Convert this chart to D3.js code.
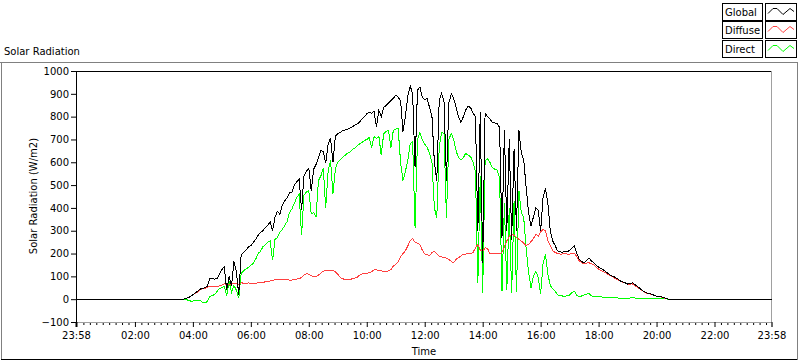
<!DOCTYPE html>
<html>
<head>
<meta charset="utf-8">
<script src="https://cdn.jsdelivr.net/npm/d3@7"></script>
<style>
  body { margin: 0; background: #fff; }
  svg text { font-family: "DejaVu Sans", sans-serif; font-size: 10px; fill: #000; }
</style>
</head>
<body>
<svg id="chart" width="800" height="361"></svg>
<script>
// samples every 5 minutes, starting 03:40 (minutes after midnight)
const startMin = 220;
const stepMin = 5;

const globalVals = [
  0, 3, 6, 12,
  20, 28, 35, 44, 48, 50, 56, 90, 92, 88, 90, 110,
  130, 142, 40, 100, 60, 165, 120, 20, 195, 205, 215, 228,
  235, 248, 262, 280, 292, 300, 315, 322, 340, 300, 360, 385,
  372, 410, 430, 445, 465, 470, 500, 515, 525, 390, 540, 560,
  575, 475, 570, 590, 620, 650, 648, 595, 680, 705, 600, 715,
  725, 730, 738, 742, 745, 750, 755, 762, 768, 775, 790, 800,
  812, 820, 815, 825, 755, 828, 800, 840, 848, 860, 870, 880,
  894, 885, 870, 735, 800, 890, 935, 900, 580, 916, 930, 885,
  875, 880, 840, 800, 600, 520, 870, 903, 865, 520, 860, 900,
  880, 840, 800, 775, 800, 830, 845, 840, 815, 800, 300, 820,
  160, 815, 800, 790, 775, 772, 770, 753, 270, 740, 300, 700,
  260, 660, 300, 740, 640, 610, 490, 380, 320, 360, 400, 390,
  300, 445, 485, 420, 300, 255, 235, 212, 208, 205, 210, 207,
  215, 225, 233, 200, 175, 165, 158, 170, 181, 168, 160, 150,
  140, 135, 128, 120, 112, 105, 100, 95, 88, 80, 76, 72,
  66, 68, 72, 64, 57, 48, 40, 32, 27, 24, 22, 17,
  13, 12, 10, 7, 4, 0, 0
];

const diffuseVals = [
  0, 3, 6, 12,
  20, 26, 32, 42, 46, 48, 52, 58, 56, 55, 54, 58,
  62, 68, 62, 66, 66, 68, 68, 66, 72, 70, 70, 71,
  70, 69, 70, 72, 72, 74, 76, 78, 80, 82, 86, 88,
  88, 88, 86, 85, 84, 84, 86, 88, 90, 95, 105, 112,
  110, 102, 100, 100, 105, 115, 122, 126, 128, 127, 126, 120,
  110, 95, 90, 86, 85, 85, 90, 92, 95, 105, 110, 112,
  114, 115, 120, 128, 128, 126, 124, 122, 122, 124, 130, 145,
  152, 165, 185, 200, 212, 233, 258, 265, 250, 245, 240, 215,
  198, 195, 190, 205, 210, 200, 188, 185, 182, 180, 175, 165,
  160, 175, 182, 190, 198, 198, 200, 198, 205, 225, 240, 215,
  210, 225, 222, 200, 200, 202, 200, 198, 205, 230, 255, 275,
  285, 280, 270, 262, 255, 245, 235, 240, 252, 265, 285, 275,
  295, 305, 300, 255, 235, 212, 205, 200, 198, 198, 200, 198,
  198, 200, 202, 185, 168, 160, 155, 158, 160, 155, 150, 140,
  132, 126, 120, 115, 108, 102, 97, 90, 85, 78, 74, 70,
  65, 66, 67, 60, 53, 46, 38, 30, 26, 23, 21, 16,
  13, 11, 9, 6, 3, 0, 0
];

const directVals = [
  0, 0, -5, -8,
  -8, -6, -4, -5, -14, -16, -10, 12, 16, 20, 34, 46,
  52, 56, 14, 78, 30, 60, 40, 4, 112, 125, 132, 140,
  148, 158, 175, 200, 210, 230, 238, 250, 255, 170, 262, 270,
  292, 305, 322, 340, 380, 395, 420, 445, 460, 280, 455, 470,
  476, 374, 380, 360, 520, 540, 575, 400, 560, 608, 462, 570,
  600, 610, 622, 630, 640, 645, 655, 662, 672, 680, 686, 695,
  700, 708, 665, 712, 705, 715, 630, 725, 735, 740, 665, 740,
  745, 748, 600, 520, 560, 610, 680, 690, 313, 700, 730, 700,
  680, 665, 640, 600, 400, 357, 665, 731, 725, 357, 700, 727,
  700, 650, 620, 610, 620, 640, 630, 625, 600, 560, 70, 540,
  25, 605, 615, 600, 577, 570, 565, 533, 35, 420, 40, 400,
  25, 430, 30, 476, 380, 357, 220, 120, 50, 100, 123, 95,
  22, 155, 198, 110, 60, 45, 35, 20, 15, 14, 13, 15,
  18, 30, 35, 15, 12, 14, 18, 22, 25, 15, 12, 12,
  10, 10, 9, 9, 8, 8, 6, 6, 5, 5, 4, 4,
  4, 5, 7, 5, 4, 4, 3, 3, 3, 3, 3, 3,
  3, 3, 2, 2, 1, 0, 0
];

const seriesNames = ["Global", "Diffuse", "Direct"];
const seriesColors = ["#000000", "#ff4040", "#00ff00"];

const yTicks = [-100, 0, 100, 200, 300, 400, 500, 600, 700, 800, 900, 1000];
// axis runs 23:58 (day before) to 23:58
const xStart = -2, xEnd = 1438;
const xTickMins = [-2, 120, 240, 360, 480, 600, 720, 840, 960, 1080, 1200, 1320, 1438];

const svg = d3.select("#chart");

const x = d3.scaleLinear().domain([xStart, xEnd]).range([76, 771.5]);
const y = d3.scaleLinear().domain([-100, 1000]).range([322, 71]);

function toSeries(vals) {
  const pts = [{ t: xStart, v: 0 }];
  vals.forEach((v, i) => pts.push({ t: startMin + i * stepMin, v: v }));
  pts.push({ t: xEnd, v: 0 });
  return pts;
}

// outer panel frame
svg.append("line").attr("x1", 0).attr("x2", 798).attr("y1", 62.5).attr("y2", 62.5)
  .attr("stroke", "#808080");
svg.append("line").attr("x1", 1.5).attr("x2", 1.5).attr("y1", 62).attr("y2", 360)
  .attr("stroke", "#808080");
svg.append("line").attr("x1", 1).attr("x2", 798).attr("y1", 359.5).attr("y2", 359.5)
  .attr("stroke", "#000");
svg.append("line").attr("x1", 797.5).attr("x2", 797.5).attr("y1", 62).attr("y2", 360)
  .attr("stroke", "#808080");

svg.append("text").attr("x", 4).attr("y", 55).text("Solar Radiation");

// legend
const legend = svg.append("g");
seriesNames.forEach((name, i) => {
  const top = 2.5 + i * 18.5;
  const g = legend.append("g").attr("transform", `translate(0,${Math.round(top) + 0.5})`);
  g.append("rect").attr("x", 722.5).attr("y", 0).attr("width", 40).attr("height", 17)
    .attr("fill", "#fff").attr("stroke", "#000");
  g.append("text").attr("x", 725).attr("y", 12.5).text(name);
  g.append("rect").attr("x", 765.5).attr("y", 0).attr("width", 31).attr("height", 17)
    .attr("fill", "#fff").attr("stroke", "#000");
  g.append("path")
    .attr("d", "M768,10 L773,5 L777,5 L783,11 L790,5 L794,8")
    .attr("fill", "none").attr("stroke", seriesColors[i]).attr("stroke-width", 1);
});

// plot box
svg.append("line").attr("x1", 76).attr("x2", 772).attr("y1", 71.5).attr("y2", 71.5)
  .attr("stroke", "#000");
svg.append("line").attr("x1", 771.5).attr("x2", 771.5).attr("y1", 71).attr("y2", 323)
  .attr("stroke", "#a0a0a0");

// y axis
const yAxis = svg.append("g").attr("transform", "translate(76,0)")
  .call(d3.axisLeft(y).tickValues(yTicks).tickSize(5).tickPadding(2).tickFormat(d3.format("d")));
yAxis.select(".domain").attr("stroke", "#000");
yAxis.selectAll("text").style("font-family", "DejaVu Sans").style("font-size", "10px");

// x axis: minor ticks every 2h/9, major every 2h
const minorTicks = d3.range(0, 1438, 120 / 9).filter(m => m % 120 > 1);
const xMinor = svg.append("g").attr("transform", "translate(0,322)")
  .call(d3.axisBottom(x).tickValues(minorTicks).tickSize(3).tickFormat(""));
xMinor.select(".domain").remove();

const fmt = m => {
  const mm = ((m % 1440) + 1440) % 1440;
  return d3.format("02d")(Math.floor(mm / 60)) + ":" + d3.format("02d")(mm % 60);
};
const xAxis = svg.append("g").attr("transform", "translate(0,322)")
  .call(d3.axisBottom(x).tickValues(xTickMins).tickSize(5).tickPadding(5).tickFormat(fmt));
xAxis.select(".domain").attr("stroke", "#a0a0a0");
xAxis.selectAll("text").style("font-family", "DejaVu Sans").style("font-size", "10px");
// the start tick is drawn heavier
xAxis.selectAll(".tick line").filter(d => d === xStart).attr("stroke-width", 2);

svg.append("text").attr("x", 424).attr("y", 355).attr("text-anchor", "middle").text("Time");
svg.append("text")
  .attr("transform", "translate(37,196) rotate(-90)")
  .attr("text-anchor", "middle")
  .text("Solar Radiation (W/m2)");

// data lines (global drawn last so it sits on top)
const line = d3.line().x(d => x(d.t)).y(d => y(d.v));
const plotOrder = [2, 1, 0];
const allVals = [globalVals, diffuseVals, directVals];
const plot = svg.append("g");
plotOrder.forEach(i => {
  plot.append("path")
    .datum(toSeries(allVals[i]))
    .attr("d", line)
    .attr("fill", "none")
    .attr("stroke", seriesColors[i])
    .attr("stroke-width", 1)
    .attr("shape-rendering", "crispEdges");
});
</script>
</body>
</html>
